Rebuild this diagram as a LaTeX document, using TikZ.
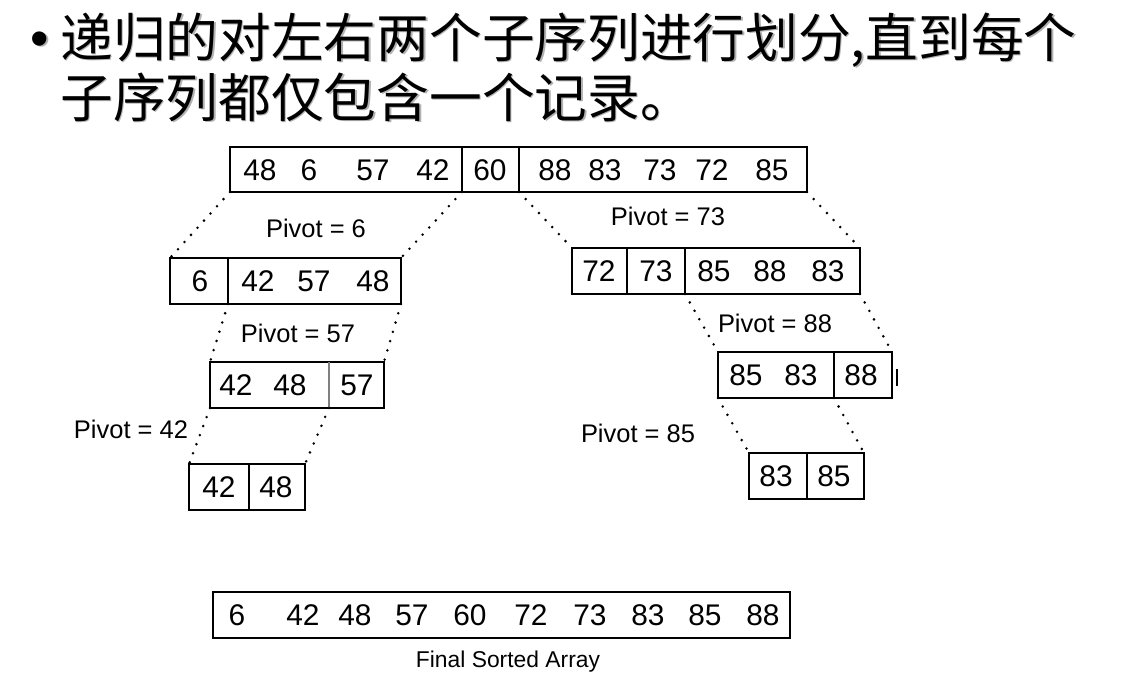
\documentclass[tikz,border=0pt]{standalone}
\usepackage{fontspec}
\setmainfont{Liberation Sans}
\newfontfamily\cjkfont{Noto Sans CJK SC}
\tikzset{
  seg/.style={rectangle,inner sep=0pt,outer sep=0pt},
  frame/.style={line width=1pt},
  sep/.style={line width=0.7pt},
  num/.style={inner sep=0pt,font=\fontsize{17}{17}\selectfont},
  pivot/.style={inner sep=0pt,font=\fontsize{14.5}{14.5}\selectfont},
  ttl/.style={inner sep=0pt,anchor=west,font=\cjkfont\fontsize{30}{30}\selectfont},
  link/.style={line width=1.6pt,line cap=round,dash pattern=on 0pt off 5.5pt}
}
% one segment of an array: name, x1, x2, y1, y2 (pixels)
\newcommand{\Seg}[5]{%
  \node[seg,minimum width={(#3-#2)*0.02cm},minimum height={(#5-#4)*0.02cm}]
    (#1) at ({(#2+#3)/2},{(#4+#5)/2}) {};}

\begin{document}
\begin{tikzpicture}[x=0.02cm,y=-0.02cm]
\useasboundingbox (0,0) rectangle (1134,700);

% title, with its shadow
\foreach \d/\c/\s in {1.5/black!30/sh,0/black/tx}{
  \node[inner sep=0pt,font=\fontsize{30}{30}\selectfont,text=\c] (bul\s) at (40+\d,44+\d) {\textbullet};
  \node[ttl,text=\c] (lnA\s) at (60+\d,40+\d) {递归的对左右两个子序列进行划分,直到每个};
  \node[ttl,text=\c] (lnB\s) at (60+\d,97+\d) {子序列都仅包含一个记录。};
}

% whole array
\Seg{tA}{230}{462}{147}{192}
\Seg{tB}{462}{519}{147}{192}
\Seg{tC}{519}{807}{147}{192}
\draw[frame] (tA.north west) rectangle (tC.south east);
\draw[sep] (tA.north east) -- (tA.south east);
\draw[sep] (tB.north east) -- (tB.south east);
\foreach \v/\x [count=\i] in {48/260,6/309,57/373,42/433,60/490,88/555,83/605,73/660,72/712,85/772}
  \node[num] (tn\i) at (\x,170) {\v};

% left part
\Seg{lA}{170}{228}{258}{304}
\Seg{lB}{228}{401}{258}{304}
\draw[frame] (lA.north west) rectangle (lB.south east);
\draw[sep] (lA.north east) -- (lA.south east);
\foreach \v/\x [count=\i] in {6/200,42/258,57/314,48/373}
  \node[num] (ln\i) at (\x,281) {\v};

\Seg{mA}{210}{329}{362}{408}
\Seg{mB}{329}{384}{362}{408}
\draw[frame] (mA.north west) rectangle (mB.south east);
\draw[sep,gray] (mA.north east) -- (mA.south east);
\foreach \v/\x [count=\i] in {42/236,48/290,57/357}
  \node[num] (mn\i) at (\x,385) {\v};

\Seg{bA}{189}{249}{464}{510}
\Seg{bB}{249}{305}{464}{510}
\draw[frame] (bA.north west) rectangle (bB.south east);
\draw[sep] (bA.north east) -- (bA.south east);
\foreach \v/\x [count=\i] in {42/219,48/276}
  \node[num] (bn\i) at (\x,487) {\v};

% right part
\Seg{rA}{572}{627}{248}{294}
\Seg{rB}{627}{685}{248}{294}
\Seg{rC}{685}{860}{248}{294}
\draw[frame] (rA.north west) rectangle (rC.south east);
\draw[sep] (rA.north east) -- (rA.south east);
\draw[sep] (rB.north east) -- (rB.south east);
\foreach \v/\x [count=\i] in {72/599,73/656,85/714,88/770,83/828}
  \node[num] (rn\i) at (\x,271) {\v};

\Seg{qA}{718}{834}{352}{398}
\Seg{qB}{834}{892}{352}{398}
\draw[frame] (qA.north west) rectangle (qB.south east);
\draw[sep] (qA.north east) -- (qA.south east);
\foreach \v/\x [count=\i] in {85/746,83/801,88/861}
  \node[num] (qn\i) at (\x,375) {\v};
\draw[line width=0.6pt] (897,369) -- (897,386);

\Seg{cA}{749}{807}{453}{499}
\Seg{cB}{807}{864}{453}{499}
\draw[frame] (cA.north west) rectangle (cB.south east);
\draw[sep] (cA.north east) -- (cA.south east);
\foreach \v/\x [count=\i] in {83/776,85/834}
  \node[num] (cn\i) at (\x,476) {\v};

% dotted links
\draw[link] (tA.south west) -- (lA.north west);
\draw[link] (tA.south east) -- (lB.north east);
\draw[link] (tC.south west) -- (rA.north west);
\draw[link] (tC.south east) -- (rC.north east);
\draw[link] (lB.south west) -- (mA.north west);
\draw[link] (lB.south east) -- (mB.north east);
\draw[link] (mA.south west) -- (bA.north west);
\draw[link] (mA.south east) -- (bB.north east);
\draw[link] (rC.south west) -- (qA.north west);
\draw[link] (rC.south east) -- (qB.north east);
\draw[link] (qA.south west) -- (cA.north west);
\draw[link] (qA.south east) -- (cB.north east);

% pivots
\node[pivot] (pv6) at (316,228) {Pivot = 6};
\node[pivot] (pv73) at (668,216) {Pivot = 73};
\node[pivot] (pv57) at (298,333) {Pivot = 57};
\node[pivot] (pv88) at (775,323) {Pivot = 88};
\node[pivot] (pv42) at (131,429) {Pivot = 42};
\node[pivot] (pv85) at (638,433) {Pivot = 85};

% sorted array
\Seg{fin}{213}{790}{592}{638}
\draw[frame] (fin.north west) rectangle (fin.south east);
\foreach \v/\x [count=\i] in {6/237,42/303,48/355,57/412,60/470,72/531,73/590,83/648,85/705,88/763}
  \node[num] (fn\i) at (\x,615) {\v};
\node[inner sep=0pt,font=\fontsize{13}{13}\selectfont] (finlbl) at (508,662) {Final Sorted Array};
\end{tikzpicture}
\end{document}
